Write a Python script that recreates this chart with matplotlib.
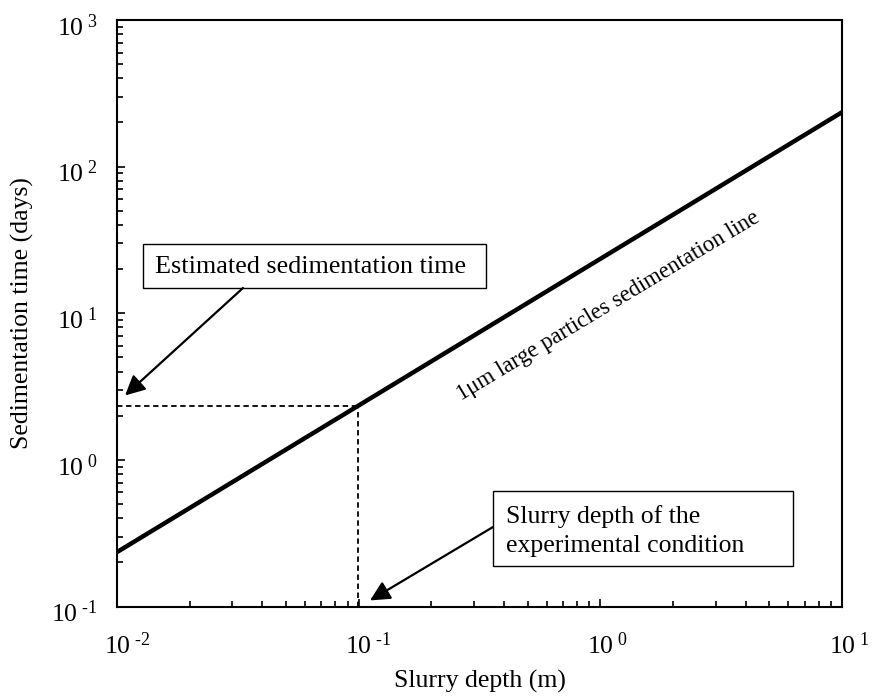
import matplotlib
matplotlib.use("Agg")
import matplotlib.pyplot as plt
from matplotlib.patches import Rectangle
from matplotlib.transforms import ScaledTranslation
from matplotlib.ticker import FixedLocator, FixedFormatter, LogLocator, NullFormatter

plt.rcParams['font.family'] = ['Liberation Serif', 'DejaVu Serif']
plt.rcParams['mathtext.fontset'] = 'custom'
plt.rcParams['mathtext.rm'] = 'Liberation Serif'
plt.rcParams['mathtext.it'] = 'Liberation Serif:italic'

# Data
line_x = [0.01, 10.0]
line_y = [0.235, 235.0]
exp_depth = 0.099
exp_time = 2.33
x_ticks = [1e-2, 1e-1, 1e0, 1e1]
x_labels = ['-2', '-1', '0', '1']
y_ticks = [1e-1, 1e0, 1e1, 1e2, 1e3]
y_labels = ['-1', '0', '1', '2', '3']
line_label = "1\u03bcm large particles sedimentation line"
box1_text = "Estimated sedimentation time"
box2_text = "Slurry depth of the\nexperimental condition"

FS = 18.5

fig = plt.figure(figsize=(8.72, 6.97), dpi=100)
ax = fig.add_axes([117/872, 1-606.5/697, 725/872, 586.5/697])
ax.set_xscale('log')
ax.set_yscale('log')
ax.set_xlim(1e-2, 1e1)
ax.set_ylim(1e-1, 1e3)

ax.plot(line_x, line_y, color='black', lw=3.2, solid_capstyle='butt', zorder=3)
ax.plot([line_x[0], exp_depth], [exp_time, exp_time], color='black', lw=1.3, ls=(0, (3, 2)), zorder=2)
ax.plot([exp_depth, exp_depth], [0.1, exp_time], color='black', lw=1.3, ls=(0, (3, 2)), zorder=2)

def fmt(e):
    return r'$\mathregular{10^{\text{ ' + e + r'}}}$'

ax.xaxis.set_major_locator(FixedLocator(x_ticks))
ax.xaxis.set_major_formatter(FixedFormatter([fmt(e) for e in x_labels]))
ax.yaxis.set_major_locator(FixedLocator(y_ticks))
ax.yaxis.set_major_formatter(FixedFormatter([fmt(e) for e in y_labels]))
ax.xaxis.set_minor_locator(LogLocator(base=10, subs=range(2, 10), numticks=20))
ax.yaxis.set_minor_locator(LogLocator(base=10, subs=range(2, 10), numticks=20))
ax.xaxis.set_minor_formatter(NullFormatter())
ax.yaxis.set_minor_formatter(NullFormatter())

ax.tick_params(which='both', direction='in', top=False, right=False, width=1.2, labelsize=FS)
ax.tick_params(which='major', length=6)
ax.tick_params(which='minor', length=4)
ax.tick_params(axis='y', which='major', pad=14)
ax.tick_params(axis='x', which='major', pad=19)
for s in ax.spines.values():
    s.set_linewidth(1.5)

ax.set_xlabel('Slurry depth (m)', fontsize=FS, va='center')
ax.xaxis.set_label_coords(0.5, (606.5 - 681) / 586.5)
ax.set_ylabel('Sedimentation time (days)', fontsize=FS, va='center')
ax.yaxis.set_label_coords((22 - 117) / 725, 0.5)

ax.text(1.075, 11.2, line_label, rotation=31, rotation_mode='anchor',
        ha='center', va='center', fontsize=16.5)

def px2ax(px, py):
    return ((px - 117) / 725, (606.5 - py) / 586.5)

# Box 1
x0, y0 = px2ax(143, 288)
x1, y1 = px2ax(486, 244)
ax.add_patch(Rectangle((x0, y0), x1 - x0, y1 - y0, transform=ax.transAxes,
                       fill=True, facecolor='white', edgecolor='black', lw=1.0, zorder=4))
tx, ty = px2ax(155, 267)
ax.text(tx, ty, box1_text, transform=ax.transAxes, ha='left', va='center', fontsize=18.8, zorder=5)

# Box 2
x0, y0 = px2ax(493, 566)
x1, y1 = px2ax(793, 491)
ax.add_patch(Rectangle((x0, y0), x1 - x0, y1 - y0, transform=ax.transAxes,
                       fill=True, facecolor='white', edgecolor='black', lw=1.0, zorder=4))
tx, ty = px2ax(506, 531)
ax.text(tx, ty, box2_text, transform=ax.transAxes, ha='left', va='center', fontsize=FS,
        linespacing=1.38, zorder=5)

# Arrows
arrow_kw = dict(arrowstyle='-|>,head_length=0.6,head_width=0.3', lw=1.6, color='black',
                mutation_scale=20, shrinkA=0, shrinkB=0)
ax.annotate('', xy=(0.0108, 2.75), xycoords='data', xytext=px2ax(243, 288),
            textcoords='axes fraction', arrowprops=arrow_kw, zorder=6)
ax.annotate('', xy=(0.1114, 0.110), xycoords='data', xytext=px2ax(493, 527),
            textcoords='axes fraction', arrowprops=arrow_kw, zorder=6)

# Tick label placement: centre the "10" on x ticks, lower y labels slightly
fig.canvas.draw()
renderer = fig.canvas.get_renderer()
tmp = fig.text(0, 0, r'$\mathregular{10}$', fontsize=FS)
w10 = tmp.get_window_extent(renderer).width
tmp.remove()
for lab in ax.get_xticklabels():
    w = lab.get_window_extent(renderer).width
    dx = (w - w10) / 2.0
    lab.set_transform(lab.get_transform() + ScaledTranslation(dx / fig.dpi, 0, fig.dpi_scale_trans))
for lab in ax.get_yticklabels():
    lab.set_transform(lab.get_transform() + ScaledTranslation(0, -5 / fig.dpi, fig.dpi_scale_trans))

fig.savefig('out.png', dpi=100)
